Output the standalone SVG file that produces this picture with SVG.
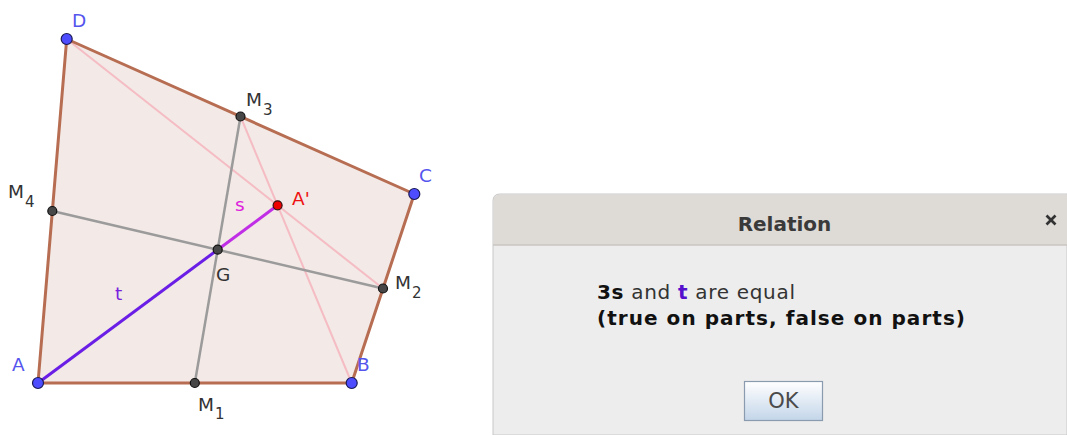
<svg xmlns="http://www.w3.org/2000/svg" width="1067" height="435" viewBox="0 0 1067 435">
<defs>
<linearGradient id="okg" x1="0" y1="0" x2="0" y2="1">
<stop offset="0" stop-color="#ffffff"/>
<stop offset="1" stop-color="#c3d5e9"/>
</linearGradient>
</defs>
<style>
.lbl{font-family:"DejaVu Sans",sans-serif;font-size:18.5px}
.sub{font-family:"DejaVu Sans",sans-serif;font-size:15px}
.blue{fill:#5555ee}
.dark{fill:#333333}
.vpt{fill:#4d4dff;stroke:#1a1a55;stroke-width:1.2}
.mpt{fill:#474747;stroke:#111;stroke-width:1.2}
.edge{stroke:#b76d52;stroke-width:3;fill:none;stroke-linecap:round}
.gray{stroke:#9b9b9b;stroke-width:2.5}
.pink{stroke:#f5bcc4;stroke-width:2}
.dlg{font-family:"DejaVu Sans",sans-serif}
</style>
<rect width="1067" height="435" fill="#ffffff"/>
<g id="quad">
<polygon points="38,383 351.7,383 414.3,194 66.7,39" fill="#f3e9e6" stroke="none"/>
</g>
<g id="connectors">
<line class="pink" x1="66.7" y1="39" x2="383" y2="288.5"/>
<line class="pink" x1="240.5" y1="116.5" x2="351.7" y2="383"/>
<line class="gray" x1="194.8" y1="383" x2="240.5" y2="116.5"/>
<line class="gray" x1="52.3" y1="211" x2="383" y2="288.5"/>
<line class="edge" x1="38" y1="383" x2="351.7" y2="383"/>
<line class="edge" x1="351.7" y1="383" x2="414.3" y2="194"/>
<line class="edge" x1="414.3" y1="194" x2="66.7" y2="39"/>
<line class="edge" x1="66.7" y1="39" x2="38" y2="383"/>
<line id="seg-t" x1="38" y1="383" x2="217.7" y2="249.7" stroke="#6a1ee6" stroke-width="3"/>
<line id="seg-s" x1="217.7" y1="249.7" x2="277.6" y2="205.3" stroke="#c02ee6" stroke-width="3"/>
<text class="lbl" x="115" y="300" fill="#7a22dd">t</text>
<text class="lbl" x="235" y="211" fill="#dd22dd">s</text>
</g>
<g id="A"><circle class="vpt" cx="38" cy="383" r="5.5"/><text class="lbl blue" x="12" y="371">A</text></g>
<g id="B"><circle class="vpt" cx="351.7" cy="383" r="5.5"/><text class="lbl blue" x="357" y="371">B</text></g>
<g id="C"><circle class="vpt" cx="414.3" cy="194" r="5.5"/><text class="lbl blue" x="419" y="182">C</text></g>
<g id="D"><circle class="vpt" cx="66.7" cy="39" r="5.5"/><text class="lbl blue" x="72" y="27">D</text></g>
<g id="M1"><circle class="mpt" cx="194.8" cy="383" r="4.5"/><text class="lbl dark" x="198" y="411">M<tspan class="sub" dx="1" dy="8">1</tspan></text></g>
<g id="M2"><circle class="mpt" cx="383" cy="288.5" r="4.5"/><text class="lbl dark" x="395" y="289">M<tspan class="sub" dx="1" dy="9">2</tspan></text></g>
<g id="M3"><circle class="mpt" cx="240.5" cy="116.5" r="4.5"/><text class="lbl dark" x="246" y="106">M<tspan class="sub" dx="1" dy="9">3</tspan></text></g>
<g id="M4"><circle class="mpt" cx="52.3" cy="211" r="4.5"/><text class="lbl dark" x="8" y="198">M<tspan class="sub" dx="1" dy="9">4</tspan></text></g>
<g id="G"><circle class="mpt" cx="217.7" cy="249.7" r="4.5"/><text class="lbl dark" x="216" y="281">G</text></g>
<g id="Aprime"><circle cx="277.6" cy="205.3" r="4.5" fill="#ee0000" stroke="#331111" stroke-width="1.2"/><text class="lbl" x="292" y="205" fill="#ee1111">A'</text></g>
<g id="dialog">
<path d="M493,435 V201 Q493,194 500,194 H1067 V435 Z" fill="#ededed" stroke="#c8c8c8" stroke-width="1"/>
<path d="M493.5,245 V201 Q493.5,194.5 500,194.5 H1067 V245 Z" fill="#dedad6"/>
<line x1="493" y1="245" x2="1067" y2="245" stroke="#c9c5c1" stroke-width="1.5"/>
<text class="dlg" x="784.5" y="231" font-size="20" font-weight="bold" fill="#3a3a3a" text-anchor="middle">Relation</text>
<line x1="1046.5" y1="215.5" x2="1055.5" y2="224.5" stroke="#333" stroke-width="2.6"/>
<line x1="1055.5" y1="215.5" x2="1046.5" y2="224.5" stroke="#333" stroke-width="2.6"/>
<text class="dlg" x="597" y="299" font-size="20" fill="#333" textLength="198" lengthAdjust="spacing"><tspan font-weight="bold" fill="#111">3s</tspan> and <tspan font-weight="bold" fill="#5511cc">t</tspan> are equal</text>
<text class="dlg" x="597" y="325" font-size="20" font-weight="bold" fill="#111" textLength="368" lengthAdjust="spacing">(true on parts, false on parts)</text>
<rect x="744.5" y="381.5" width="78" height="39" fill="url(#okg)" stroke="#8a9bb0" stroke-width="1.2"/>
<text class="dlg" x="783.5" y="408" font-size="21" fill="#4a4a4a" text-anchor="middle">OK</text>
</g>
</svg>
